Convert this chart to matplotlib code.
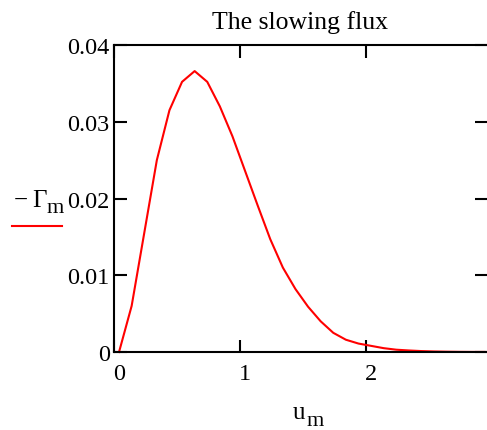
import matplotlib
matplotlib.use("Agg")
import matplotlib.pyplot as plt
import matplotlib.transforms as mtransforms
from matplotlib.lines import Line2D

plt.rcParams['font.family'] = ['Liberation Serif', 'DejaVu Serif']

# u_m grid and slowing flux values
u_m = [0.04, 0.14, 0.24, 0.34, 0.44, 0.54, 0.64, 0.74, 0.84, 0.94,
       1.04, 1.14, 1.24, 1.34, 1.44, 1.54, 1.64, 1.74, 1.84, 1.94,
       2.04, 2.14, 2.24, 2.34, 2.44, 2.54, 2.64, 2.74, 2.84, 2.94]
gamma = [0.0, 0.0060, 0.0155, 0.0250, 0.0315, 0.0352, 0.0366, 0.0352, 0.0320, 0.0281,
         0.0236, 0.0191, 0.0147, 0.0110, 0.0082, 0.0059, 0.0040, 0.0025, 0.0016, 0.0011,
         0.0008, 0.0005, 0.0003, 0.0002, 0.00012, 0.00007, 0.00004, 0.00002, 0.00001, 0.00001]

x_ticks = [0, 1, 2]
y_ticks = [0, 0.01, 0.02, 0.03, 0.04]
y_labels = ['0', '0.01', '0.02', '0.03', '0.04']

W, H = 487, 431
fig = plt.figure(figsize=(W / 100, H / 100), dpi=100)
ax = fig.add_axes([114 / W, (H - 353) / H, (W - 114) / W, (353 - 46) / H])


def px(x, y):
    # pixel position (from top-left) to figure fraction
    return x / W, (H - y) / H


ax.plot(u_m, gamma, color='red', lw=1.5, clip_on=False)
ax.set_xlim(0, 2.96)
ax.set_ylim(0, 0.04)

ax.set_xticks(x_ticks)
ax.set_xticklabels([str(t) for t in x_ticks])
ax.set_yticks(y_ticks)
ax.set_yticklabels(y_labels)

ax.tick_params(axis='both', direction='in', length=9, width=1.5,
               labelsize=17.5, top=True, right=True)
ax.tick_params(axis='x', pad=8)
ax.tick_params(axis='y', pad=3)

# shift x tick labels a little to the right like the original
off = mtransforms.ScaledTranslation(5 / 100, 0, fig.dpi_scale_trans)
for lab in ax.get_xticklabels():
    lab.set_transform(lab.get_transform() + off)

for s in ['left', 'bottom', 'top']:
    ax.spines[s].set_linewidth(1.5)
ax.spines['right'].set_visible(False)

ax.set_title('The slowing flux', fontsize=18.5, pad=12)

# x label u_m (big subscript, Mathcad style)
fig.text(*px(293, 419), 'u', fontsize=18, ha='left', va='baseline')
fig.text(*px(307, 426), 'm', fontsize=16, ha='left', va='baseline')

# y label - Γ_m with trace sample underneath
fig.text(*px(14, 207), '\u2212', fontsize=18, ha='left', va='baseline')
fig.text(*px(32, 207), '\u0393', fontsize=18, ha='left', va='baseline')
fig.text(*px(47, 213), 'm', fontsize=16, ha='left', va='baseline')
x0, y0 = px(12, 227)
x1, _ = px(62, 227)
fig.add_artist(Line2D([x0, x1], [y0, y0], color='red', lw=1.5,
                      transform=fig.transFigure))

fig.savefig('out.png', dpi=100)
